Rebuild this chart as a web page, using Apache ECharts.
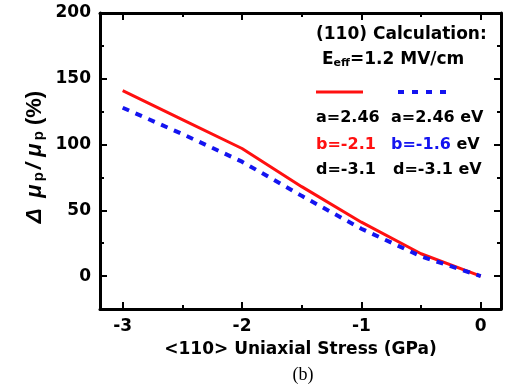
<!DOCTYPE html>
<html><head><meta charset="utf-8">
<script src="https://cdn.jsdelivr.net/npm/echarts@6/dist/echarts.min.js"></script>
<style>html,body{margin:0;padding:0;background:#fff}#c{width:505px;height:389px}</style>
</head><body><div id="c"></div>
<script>
const stress = [-3, -2.5, -2, -1.5, -1, -0.5, 0];
const redValues = [141, 119, 97, 68, 41, 17, 0];
const blueValues = [128, 108, 87, 61, 36, 15, 0];
const xMajorTicks = [-3, -2, -1, 0];
const xMinorTicks = [-2.5, -1.5, -0.5];
const yMajorTicks = [0, 50, 100, 150, 200];
const yMinorTicks = [25, 75, 125, 175];

const XMIN = -3.19, XMAX = 0.17, YMIN = -25, YMAX = 200;
const FONT = 'DejaVu Sans';
const RED = '#ff1010', BLUE = '#1414f0';

function xAx(pos, major, line, label, extra) {
  return Object.assign({
    type: 'value', position: pos, min: XMIN, max: XMAX,
    axisLine: { show: line, onZero: false, lineStyle: { color: '#000', width: 3 } },
    axisTick: { show: true, inside: true, length: major ? 7 : 4,
      customValues: major ? xMajorTicks : xMinorTicks, lineStyle: { color: '#000', width: 2 } },
    axisLabel: { show: label, customValues: xMajorTicks, color: '#000', fontFamily: FONT,
      fontWeight: 'bold', fontSize: 17, margin: 9 },
    splitLine: { show: false }
  }, extra || {});
}
function yAx(pos, major, line, label) {
  return {
    type: 'value', position: pos, min: YMIN, max: YMAX,
    axisLine: { show: line, onZero: false, lineStyle: { color: '#000', width: 3 } },
    axisTick: { show: true, inside: true, length: major ? 7 : 4,
      customValues: major ? yMajorTicks : yMinorTicks, lineStyle: { color: '#000', width: 2 } },
    axisLabel: { show: label, customValues: yMajorTicks, color: '#000', fontFamily: FONT,
      fontWeight: 'bold', fontSize: 17, margin: 9 },
    splitLine: { show: false }
  };
}

const chart = echarts.init(document.getElementById('c'), null, { renderer: 'canvas' });
const txt = (extra) => Object.assign({ fill: '#000', fontFamily: FONT, fontWeight: 'bold' }, extra);
const G = { fontFamily: 'Liberation Sans', fontSize: 22, fontStyle: 'italic', fontWeight: 'bold', fill: '#000' };

chart.setOption({
  animation: false,
  backgroundColor: '#fff',
  grid: { left: 100, right: 4, top: 13, bottom: 80, containLabel: false },
  xAxis: [
    xAx('bottom', true, true, true, {
      name: '<110> Uniaxial Stress (GPa)', nameLocation: 'middle', nameGap: 32,
      nameTextStyle: { color: '#000', fontFamily: FONT, fontWeight: 'bold', fontSize: 17 }
    }),
    xAx('bottom', false, false, false),
    xAx('top', true, true, false),
    xAx('top', false, false, false)
  ],
  yAxis: [
    yAx('left', true, true, true),
    yAx('left', false, false, false),
    yAx('right', true, true, false),
    yAx('right', false, false, false)
  ],
  series: [
    { type: 'line', xAxisIndex: 0, yAxisIndex: 0, symbol: 'none', smooth: false,
      data: stress.map((x, i) => [x, redValues[i]]),
      lineStyle: { color: RED, width: 3 }, z: 3 },
    { type: 'line', xAxisIndex: 0, yAxisIndex: 0, symbol: 'none', smooth: false,
      data: stress.map((x, i) => [x, blueValues[i]]),
      lineStyle: { color: BLUE, width: 4, type: [7, 7] }, z: 4 }
  ],
  graphic: [
    { type: 'text', x: 35, y: 157, rotation: Math.PI / 2,
      style: txt({
        text: '{d|Δ}{m|μ}{s|p}{sl|/}{m|μ}{s|p}{n| (%)}',
        align: 'center', verticalAlign: 'middle', textAlign: 'center', textVerticalAlign: 'middle',
        rich: {
          d: Object.assign({ width: 22, align: 'left' }, G),
          m: Object.assign({ width: 20, align: 'right' }, G),
          s: { fontFamily: 'Liberation Sans', fontSize: 15, fontWeight: 'bold', verticalAlign: 'bottom', width: 9, align: 'left', fill: '#000' },
          sl: Object.assign({ width: 12, align: 'center' }, G),
          n: { fontFamily: 'Liberation Sans', fontSize: 22, fontWeight: 'bold', fill: '#000' }
        }
      }) },
    { type: 'text', x: 316, y: 35, style: txt({ text: '(110) Calculation:', fontSize: 17, verticalAlign: 'middle', textVerticalAlign: 'middle' }) },
    { type: 'text', x: 322, y: 60, style: txt({
        text: '{t|E}{sub|eff}{t|=1.2 MV/cm}', verticalAlign: 'middle', textVerticalAlign: 'middle',
        rich: {
          t: { fontFamily: FONT, fontWeight: 'bold', fontSize: 17, fill: '#000' },
          sub: { fontFamily: FONT, fontWeight: 'bold', fontSize: 11, verticalAlign: 'bottom', fill: '#000' }
        } }) },
    { type: 'line', shape: { x1: 316, y1: 92, x2: 363, y2: 92 }, style: { stroke: RED, lineWidth: 3 } },
    { type: 'line', shape: { x1: 398, y1: 92, x2: 446, y2: 92 }, style: { stroke: BLUE, lineWidth: 4, lineDash: [6, 8] } },
    { type: 'text', x: 316, y: 118, style: txt({ text: 'a=2.46', fontSize: 16, verticalAlign: 'middle', textVerticalAlign: 'middle' }) },
    { type: 'text', x: 391, y: 118, style: txt({ text: 'a=2.46 eV', fontSize: 16, verticalAlign: 'middle', textVerticalAlign: 'middle' }) },
    { type: 'text', x: 316, y: 145, style: txt({ text: 'b=-2.1', fontSize: 16, fill: RED, verticalAlign: 'middle', textVerticalAlign: 'middle' }) },
    { type: 'text', x: 391, y: 145, style: txt({
        text: '{b|b=-1.6}{k| eV}', verticalAlign: 'middle', textVerticalAlign: 'middle',
        rich: {
          b: { fontFamily: FONT, fontWeight: 'bold', fontSize: 16, fill: BLUE },
          k: { fontFamily: FONT, fontWeight: 'bold', fontSize: 16, fill: '#000' }
        } }) },
    { type: 'text', x: 316, y: 170, style: txt({ text: 'd=-3.1', fontSize: 16, verticalAlign: 'middle', textVerticalAlign: 'middle' }) },
    { type: 'text', x: 393, y: 170, style: txt({ text: 'd=-3.1 eV', fontSize: 16, verticalAlign: 'middle', textVerticalAlign: 'middle' }) },
    { type: 'text', x: 303, y: 375, style: { text: '(b)', fill: '#000', fontFamily: 'Liberation Serif', fontSize: 18,
        align: 'center', verticalAlign: 'middle', textAlign: 'center', textVerticalAlign: 'middle' } }
  ]
});
</script></body></html>
